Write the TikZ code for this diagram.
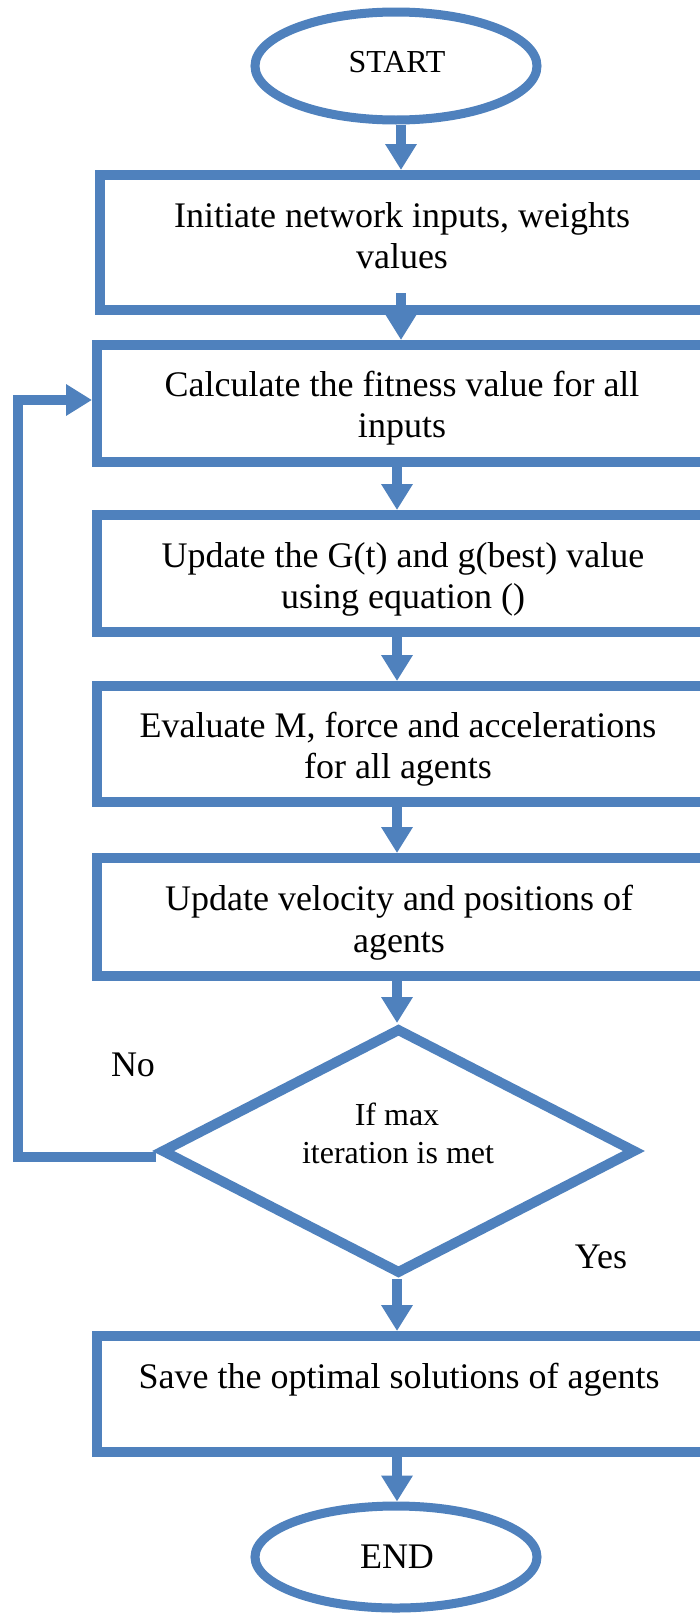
\documentclass[tikz,border=0pt]{standalone}
\usepackage{fontspec}
\setmainfont{Liberation Serif}
\usetikzlibrary{arrows.meta,shapes.geometric,calc}
\definecolor{fc}{RGB}{79,129,189}
\begin{document}
\begin{tikzpicture}[x=1pt,y=-1pt,
  blk/.style={draw=fc,line width=10pt,rectangle,inner sep=0pt},
  term/.style={draw=fc,line width=9pt,ellipse,inner sep=0pt,minimum width=282pt},
  dec/.style={draw=fc,line width=10pt,diamond,inner sep=0pt,minimum width=475pt,minimum height=246pt},
  flow/.style={draw=fc,line width=10pt,-{Triangle[width=30pt,length=26pt]}},
  txt/.style={anchor=base,inner sep=0pt,font=\fontsize{36}{40}\selectfont},
  stxt/.style={anchor=base,inner sep=0pt,font=\fontsize{32}{36}\selectfont}]
\useasboundingbox (0,0) rectangle (700,1614);
\clip (0,0) rectangle (700,1614);
\fill[white] (0,0) rectangle (700,1614);

% columns for connectors
\coordinate (c1) at (401,0);
\coordinate (c2) at (397,0);

% terminals
\node[term,minimum height=108pt] (startN) at (396,66) {};
\node[term,minimum height=102pt] (endN) at (396,1557) {};

% process boxes
\node[blk,minimum width=612pt,minimum height=135pt] (b1) at (406,242.5) {};
\node[blk,minimum width=615pt,minimum height=117pt] (b2) at (404.5,403.5) {};
\node[blk,minimum width=615pt,minimum height=117pt] (b3) at (404.5,573.5) {};
\node[blk,minimum width=615pt,minimum height=116pt] (b4) at (404.5,744) {};
\node[blk,minimum width=615pt,minimum height=118pt] (b5) at (404.5,917) {};
\node[blk,minimum width=615pt,minimum height=116pt] (b6) at (404.5,1394) {};

% decision
\node[dec] (d) at (398.5,1151) {};

% texts
\node[stxt] (tstart) at (397,72) {START};
\node[txt] (t1a) at (402,227) {Initiate network inputs, weights};
\node[txt] (t1b) at (402,268) {values};
\node[txt] (t2a) at (402,396) {Calculate the fitness value for all};
\node[txt] (t2b) at (402,437) {inputs};
\node[txt] (t3a) at (403,567) {Update the G(t) and g(best) value};
\node[txt] (t3b) at (403,608) {using equation ()};
\node[txt] (t4a) at (398,737) {Evaluate M, force and accelerations};
\node[txt] (t4b) at (398,778) {for all agents};
\node[txt] (t5a) at (399,910) {Update velocity and positions of};
\node[txt] (t5b) at (399,952) {agents};
\node[stxt] (tda) at (397,1125) {If max};
\node[stxt] (tdb) at (398,1163) {iteration is met};
\node[txt] (tno) at (133,1076) {No};
\node[txt] (tyes) at (601,1268) {Yes};
\node[txt] (t6) at (399,1388) {Save the optimal solutions of agents};
\node[txt] (tend) at (397,1568) {END};

% connectors
\draw[flow] (startN.south -| c1) -- (b1.north -| c1);
\draw[flow] ($(b1.south -| c1)+(0,-22)$) -- (b2.north -| c1);
\draw[flow] (b2.south -| c2) -- (b3.north -| c2);
\draw[flow] (b3.south -| c2) -- (b4.north -| c2);
\draw[flow] (b4.south -| c2) -- (b5.north -| c2);
\draw[flow] (b5.south -| c2) -- (d.north -| c2);
\draw[flow] (d.south -| c2) -- (b6.north -| c2);
\draw[flow] (b6.south -| c2) -- (endN.north -| c2);

% loop back (No)
\coordinate (lb) at (18,1157);
\coordinate (lt) at (18,400);
\draw[flow] (d.west |- lb) -- (lb) -- (lt) -- (b2.west |- lt);
\end{tikzpicture}
\end{document}
